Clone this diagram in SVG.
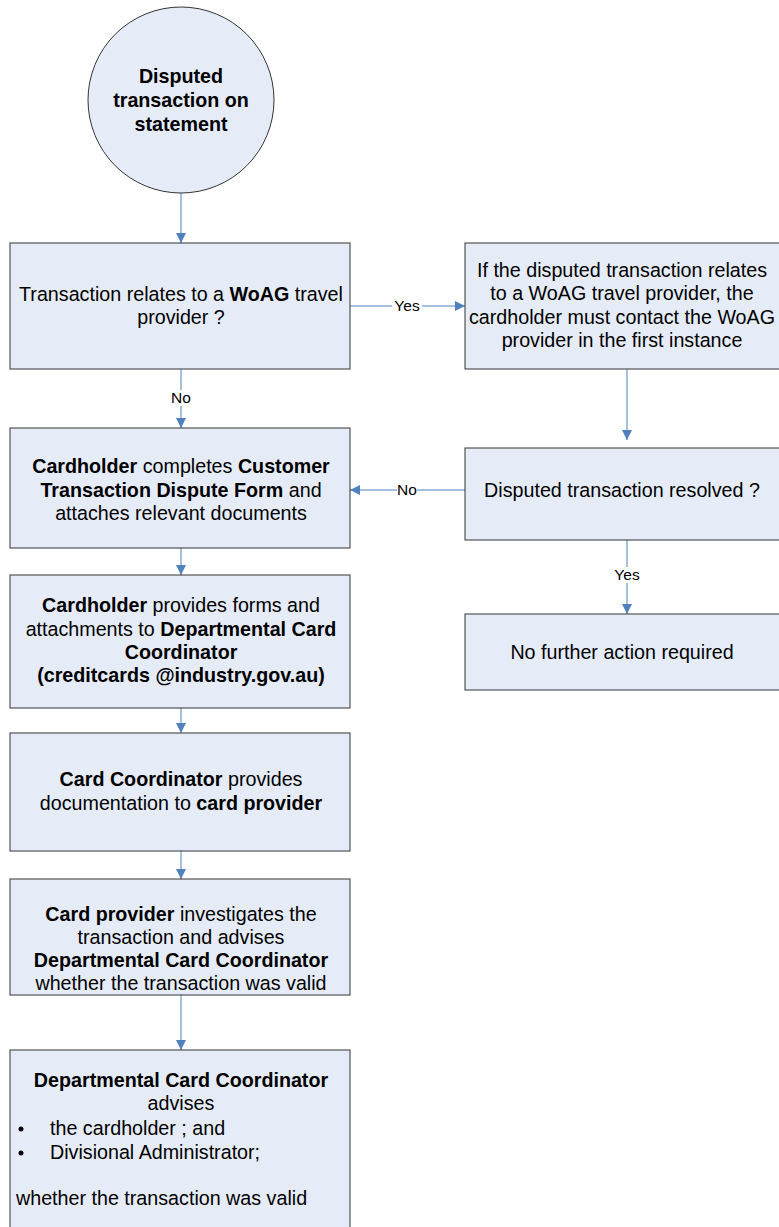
<svg xmlns="http://www.w3.org/2000/svg" width="779" height="1227" viewBox="0 0 779 1227">
<style>
.n{fill:#e6ecf7;stroke:#333;stroke-width:1}
text{font-family:"Liberation Sans",Arial,sans-serif;font-size:19.7px;fill:#000}
.c{text-anchor:middle}
.b{font-weight:bold}
.l{font-size:15.5px}
.e{stroke:#4f81bd;stroke-width:1;fill:none;marker-end:url(#a)}
.lb{fill:#fff}
</style>
<defs>
<marker id="a" viewBox="0 0 10 10" refX="10" refY="5" markerWidth="10" markerHeight="10" markerUnits="userSpaceOnUse" orient="auto">
<path d="M0,0 L10,5 L0,10 z" fill="#4f81bd"/>
</marker>
</defs>
<rect width="779" height="1227" fill="#fff"/>
<g id="connectors">
<line class="e" x1="181" y1="193" x2="181" y2="243"/>
<line class="e" x1="350" y1="306" x2="465" y2="306"/>
<line class="e" x1="181" y1="369" x2="181" y2="428"/>
<line class="e" x1="627" y1="369" x2="627" y2="440"/>
<line class="e" x1="465" y1="490" x2="350" y2="490"/>
<line class="e" x1="627" y1="540" x2="627" y2="614"/>
<line class="e" x1="181" y1="548" x2="181" y2="575"/>
<line class="e" x1="181" y1="708" x2="181" y2="733"/>
<line class="e" x1="181" y1="851" x2="181" y2="879"/>
<line class="e" x1="181" y1="995" x2="181" y2="1050"/>
<rect class="lb" x="392" y="298" width="30" height="16"/>
<text class="c l" x="407" y="311">Yes</text>
<rect class="lb" x="171" y="390" width="20" height="16"/>
<text class="c l" x="181" y="403">No</text>
<rect class="lb" x="397" y="482" width="20" height="16"/>
<text class="c l" x="407" y="495">No</text>
<rect class="lb" x="612" y="567" width="30" height="16"/>
<text class="c l" x="627" y="580">Yes</text>
</g>
<g id="start">
<circle class="n" cx="181" cy="100" r="93"/>
<text class="c b" x="181" y="83">Disputed</text>
<text class="c b" x="181" y="107">transaction on</text>
<text class="c b" x="181" y="131">statement</text>
</g>
<g id="woag">
<rect class="n" x="10" y="243" width="340" height="126"/>
<text class="c" x="181" y="301">Transaction relates to a  <tspan class="b">WoAG</tspan> travel</text>
<text class="c" x="181" y="324">provider ?</text>
</g>
<g id="contact">
<rect class="n" x="465" y="243" width="320" height="126"/>
<text class="c" x="622" y="277">If the disputed transaction relates</text>
<text class="c" x="622" y="300">to a WoAG travel provider, the</text>
<text class="c" x="622" y="324">cardholder must contact the WoAG</text>
<text class="c" x="622" y="347">provider in the first instance</text>
</g>
<g id="resolved">
<rect class="n" x="465" y="448" width="320" height="92"/>
<text class="c" x="622" y="497">Disputed transaction resolved ?</text>
</g>
<g id="noaction">
<rect class="n" x="465" y="614" width="320" height="76"/>
<text class="c" x="622" y="659">No further action required</text>
</g>
<g id="form">
<rect class="n" x="10" y="428" width="340" height="120"/>
<text class="c" x="181" y="473"><tspan class="b">Cardholder</tspan> completes <tspan class="b">Customer</tspan></text>
<text class="c" x="181" y="497"><tspan class="b">Transaction Dispute Form</tspan>  and</text>
<text class="c" x="181" y="520">attaches relevant documents</text>
</g>
<g id="provide">
<rect class="n" x="10" y="575" width="340" height="133"/>
<text class="c" x="181" y="612"><tspan class="b">Cardholder</tspan> provides forms and</text>
<text class="c" x="181" y="636">attachments to <tspan class="b">Departmental Card</tspan></text>
<text class="c b" x="181" y="659">Coordinator</text>
<text class="c b" x="181" y="682">(creditcards @industry.gov.au)</text>
</g>
<g id="coordinator">
<rect class="n" x="10" y="733" width="340" height="118"/>
<text class="c" x="181" y="786"><tspan class="b">Card Coordinator</tspan> provides</text>
<text class="c" x="181" y="810">documentation to <tspan class="b">card provider</tspan></text>
</g>
<g id="investigate">
<rect class="n" x="10" y="879" width="340" height="116"/>
<text class="c" x="181" y="921"><tspan class="b">Card provider</tspan> investigates the</text>
<text class="c" x="181" y="944">transaction and advises</text>
<text class="c b" x="181" y="967">Departmental Card Coordinator</text>
<text class="c" x="181" y="990">whether the transaction was valid</text>
</g>
<g id="advise">
<rect class="n" x="10" y="1050" width="340" height="190"/>
<text class="c b" x="181" y="1087">Departmental Card Coordinator</text>
<text class="c" x="181" y="1110">advises</text>
<circle cx="21" cy="1129" r="2.5" fill="#000"/>
<text x="50" y="1135">the cardholder ; and</text>
<circle cx="21" cy="1153" r="2.5" fill="#000"/>
<text x="50" y="1159">Divisional Administrator;</text>
<text x="16" y="1205">whether the transaction was valid</text>
</g>
</svg>
